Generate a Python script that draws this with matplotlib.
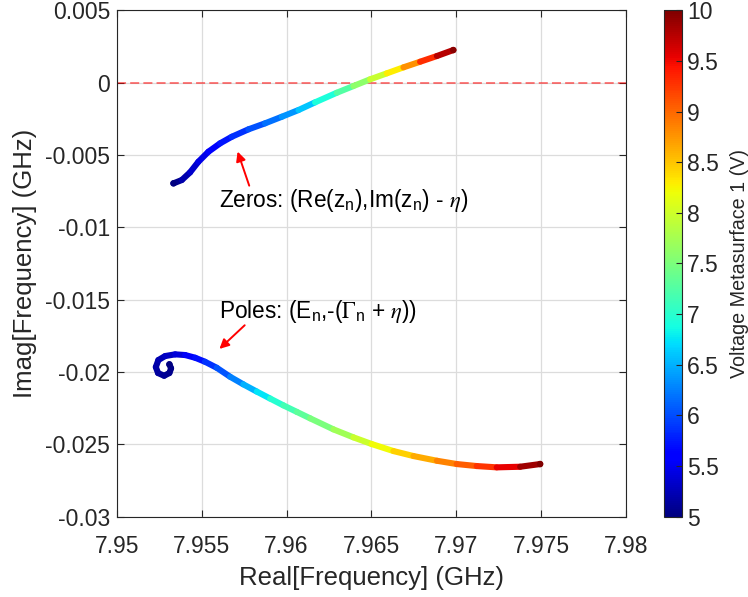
import numpy as np
import matplotlib
matplotlib.use("Agg")
import matplotlib.pyplot as plt
from matplotlib.collections import LineCollection
from matplotlib.ticker import FuncFormatter, MultipleLocator

plt.rcParams['font.family'] = ['Liberation Sans', 'DejaVu Sans']
plt.rcParams['mathtext.fontset'] = 'stix'
plt.rcParams['axes.unicode_minus'] = False

# Trayectoria de ceros (GHz) y voltaje en cada punto
zero_volt = [5.0, 5.13, 5.27, 5.4, 5.53, 5.68, 5.8, 5.94, 6.1, 6.25, 6.45,
             6.75, 7.1, 7.4, 7.8, 8.1, 8.5, 9.05, 9.55, 9.95]
zero_re = [7.95333, 7.95382, 7.95431, 7.95480, 7.95539, 7.95608, 7.95677,
           7.95775, 7.95873, 7.95972, 7.96070, 7.96168, 7.96296, 7.96394,
           7.96492, 7.96591, 7.96689, 7.96787, 7.96886, 7.96983]
zero_im = [-0.006958, -0.006729, -0.006197, -0.005464, -0.004772, -0.004191,
           -0.003735, -0.003223, -0.002808, -0.002351, -0.001888, -0.001356,
           -0.000692, -0.000228, 0.000235, 0.000650, 0.001065, 0.001452,
           0.001847, 0.002261]

# Trayectoria de polos (GHz) y voltaje en cada punto
pole_volt = [5.0, 5.03, 5.06, 5.09, 5.12, 5.16, 5.2, 5.26, 5.34, 5.45, 5.62,
             5.78, 5.95, 6.15, 6.375, 6.6, 6.9, 7.08, 7.25, 7.38, 7.6, 7.85,
             8.1, 8.33, 8.55, 8.75, 8.95, 9.17, 9.375, 9.7, 10.0]
pole_re = [7.95309, 7.95319, 7.95309, 7.95278, 7.95242, 7.95229, 7.95244,
           7.95284, 7.95343, 7.95402, 7.95461, 7.95519, 7.95588, 7.95667,
           7.95745, 7.95824, 7.95903, 7.95981, 7.96060, 7.96139, 7.96276,
           7.96394, 7.96502, 7.96630, 7.96748, 7.96886, 7.97003, 7.97121,
           7.97239, 7.97377, 7.97495]
pole_im = [-0.019475, -0.019752, -0.020077, -0.020264, -0.020077, -0.019662,
           -0.019178, -0.018902, -0.018784, -0.018832, -0.019019, -0.019296,
           -0.019711, -0.020333, -0.020859, -0.021357, -0.021841, -0.022311,
           -0.022761, -0.023210, -0.023971, -0.024524, -0.024987, -0.025472,
           -0.025817, -0.026142, -0.026370, -0.026509, -0.026599, -0.026557,
           -0.026370]

vmin, vmax = 5, 10
cb_ticks = [5, 5.5, 6, 6.5, 7, 7.5, 8, 8.5, 9, 9.5, 10]

txt = '#262626'
cmap = plt.get_cmap('jet')
norm = plt.Normalize(vmin, vmax)

fig = plt.figure(figsize=(7.48, 5.97), dpi=100)
ax = fig.add_axes([0.1564, 0.1348, 0.6802, 0.8477])
cax = fig.add_axes([0.8877, 0.1348, 0.0241, 0.8477])

def tray(xs, ys, vs):
    pts = np.column_stack([xs, ys])
    segs = np.stack([pts[:-1], pts[1:]], axis=1)
    v = np.asarray(vs)
    lc = LineCollection(segs, cmap=cmap, norm=norm, linewidths=4.4,
                        capstyle='round', joinstyle='round', zorder=3)
    lc.set_array((v[:-1] + v[1:]) / 2)
    ax.add_collection(lc)
    # puntas redondeadas con el color de los extremos
    ax.scatter([xs[0], xs[-1]], [ys[0], ys[-1]], c=[vs[0], vs[-1]],
               cmap=cmap, norm=norm, s=22, zorder=4, linewidths=0)

tray(zero_re, zero_im, zero_volt)
tray(pole_re, pole_im, pole_volt)

ax.axhline(0, color='red', alpha=0.55, ls=(0, (5, 2.3)), lw=1.3, zorder=2)

ax.set_xlim(7.95, 7.98)
ax.set_ylim(-0.03, 0.005)
ax.xaxis.set_major_locator(MultipleLocator(0.005))
ax.yaxis.set_major_locator(MultipleLocator(0.005))
fmt = FuncFormatter(lambda v, p: '%g' % round(v, 6))
ax.xaxis.set_major_formatter(fmt)
ax.yaxis.set_major_formatter(fmt)
ax.grid(True, color='#dcdcdc', lw=0.9)
ax.set_axisbelow(True)
ax.tick_params(direction='in', length=5, width=0.8, colors=txt,
               labelsize=16.5, top=True, right=True, pad=5)
ax.tick_params(axis='x', pad=13)
for s in ax.spines.values():
    s.set_color(txt)
    s.set_linewidth(0.8)
ax.set_xlabel('Real[Frequency] (GHz)', fontsize=18.5, color=txt, labelpad=6)
ax.set_ylabel('Imag[Frequency] (GHz)', fontsize=18.5, color=txt, labelpad=6)

# Anotaciones
ax.text(7.95600, -0.00811, r'Zeros: (Re(z$\mathregular{_n}$),Im(z$\mathregular{_n}$) - $\eta$)',
        fontsize=16.3, color='black', va='center', ha='left')
ax.text(7.95600, -0.01584, r'Poles: (E$\mathregular{_n}$,-($\Gamma\mathregular{_n}$ + $\eta$))',
        fontsize=16.3, color='black', va='center', ha='left')
ax.annotate('', xy=(7.95706, -0.00458), xytext=(7.95785, -0.00730),
            arrowprops=dict(arrowstyle='-|>', color='red', lw=1.4, mutation_scale=14))
ax.annotate('', xy=(7.95592, -0.01854), xytext=(7.95765, -0.01664),
            arrowprops=dict(arrowstyle='-|>', color='red', lw=1.4, mutation_scale=14))

sm = plt.cm.ScalarMappable(cmap=cmap, norm=norm)
cb = fig.colorbar(sm, cax=cax, ticks=cb_ticks)
cb.ax.yaxis.set_major_formatter(FuncFormatter(lambda v, p: '%g' % v))
cb.ax.tick_params(direction='in', length=4, width=0.8, colors=txt, labelsize=16.5)
cb.outline.set_edgecolor(txt)
cb.outline.set_linewidth(0.8)
cb.set_label('Voltage Metasurface 1 (V)', fontsize=14.2, color=txt, labelpad=8)

fig.savefig('out.png', dpi=100)
